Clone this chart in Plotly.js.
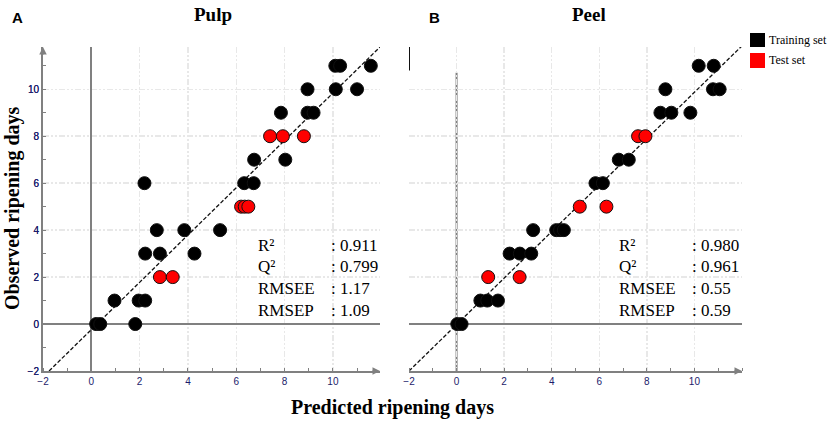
<!DOCTYPE html>
<html>
<head>
<meta charset="utf-8">
<script src="https://cdn.plot.ly/plotly-3.0.1.min.js"></script>
<style>
  html, body { margin: 0; padding: 0; background: #fff; }
  #chart { width: 829px; height: 421px; }
</style>
</head>
<body>
<div id="chart"></div>
<script>
// Pulp (A): predicted vs observed ripening days
var pulpTrainX = [10.1, 10.3, 11.57, 8.95, 10.12, 11.0, 7.85, 8.95, 9.2, 6.74, 8.03, 6.33, 6.72, 2.2,
                  2.71, 3.85, 5.33, 2.23, 2.84, 4.27, 0.96, 1.96, 2.23, 0.2, 0.37, 1.82];
var pulpTrainY = [11, 11, 11, 10, 10, 10, 9, 9, 9, 7, 7, 6, 6, 6,
                  4, 4, 4, 3, 3, 3, 1, 1, 1, 0, 0, 0];
var pulpTestX = [7.4, 7.93, 8.8, 6.2, 6.35, 6.5, 2.84, 3.37];
var pulpTestY = [8, 8, 8, 5, 5, 5, 2, 2];
var pulpFitX = [-1.75, 12];
var pulpFitY = [-2, 11.85];

// Peel (B)
var peelTrainX = [10.18, 10.81, 8.78, 10.78, 11.06, 8.57, 9.03, 9.83, 6.82, 7.24, 5.84, 6.15,
                  3.22, 4.19, 4.35, 4.51, 2.23, 2.66, 3.14, 1.0, 1.29, 1.74, 0.03, 0.21];
var peelTrainY = [11, 11, 10, 10, 10, 9, 9, 9, 7, 7, 6, 6,
                  4, 4, 4, 4, 3, 3, 3, 1, 1, 1, 0, 0];
var peelTestX = [7.63, 7.94, 5.18, 6.3, 1.33, 2.65];
var peelTestY = [8, 8, 5, 5, 2, 2];
var peelFitX = [-2, 12];
var peelFitY = [-2, 11.85];

var statNames = ['R²', 'Q²', 'RMSEE', 'RMSEP'];
var pulpStats = ['0.911', '0.799', '1.17', '1.09'];
var peelStats = ['0.980', '0.961', '0.55', '0.59'];

var tickVals = [-2, 0, 2, 4, 6, 8, 10];

var W = 829, H = 421;
function fx(p) { return p / W; }
function fy(p) { return 1 - p / H; }

var serif = 'Liberation Serif, Times New Roman, serif';
var sans = 'Liberation Sans, Arial, sans-serif';

function dots(x, y, col, ax) {
  return {
    x: x, y: y, type: 'scatter', mode: 'markers', showlegend: false,
    xaxis: ax[0], yaxis: ax[1], hoverinfo: 'x+y',
    marker: { size: 13, color: col, line: { color: '#111', width: 1 } }
  };
}
function fit(x, y, ax) {
  return {
    x: x, y: y, type: 'scatter', mode: 'lines', showlegend: false,
    xaxis: ax[0], yaxis: ax[1], hoverinfo: 'skip',
    line: { color: '#111', width: 1.3, dash: '4px,2px' }
  };
}

var data = [
  fit(pulpFitX, pulpFitY, ['x', 'y']),
  dots(pulpTrainX, pulpTrainY, '#000', ['x', 'y']),
  dots(pulpTestX, pulpTestY, '#ff0000', ['x', 'y']),
  fit(peelFitX, peelFitY, ['x2', 'y2']),
  dots(peelTrainX, peelTrainY, '#000', ['x2', 'y2']),
  dots(peelTestX, peelTestY, '#ff0000', ['x2', 'y2'])
];

function axis(dom, rng, zl) {
  return {
    domain: dom, range: rng, tickvals: tickVals, ticks: '',
    showline: true, linecolor: '#808080', linewidth: 2,
    showgrid: true, gridcolor: '#e8e8e8', gridwidth: 1.5, griddash: '6px,2px,2px,2px,2px,2px',
    zeroline: zl, zerolinecolor: '#808080', zerolinewidth: 2,
    tickfont: { family: sans, size: 10, color: '#1c1c6b' },
    minor: { dtick: 1, tick0: 1, ticks: 'inside', ticklen: 3, tickcolor: '#808080', showgrid: false },
    fixedrange: true
  };
}

var layout = {
  width: W, height: H,
  margin: { l: 0, r: 0, t: 0, b: 0 },
  paper_bgcolor: '#fff', plot_bgcolor: '#fff',
  showlegend: false,
  xaxis: axis([fx(43), fx(380)], [-2, 11.95], true),
  yaxis: axis([fy(371), fy(47)], [-2, 11.8], true),
  xaxis2: axis([fx(409), fx(742)], [-2, 12], false),
  yaxis2: axis([fy(371), fy(47)], [-2, 11.8], true),
  shapes: [
    // right panel: vertical zero line stops short of the top
    { type: 'line', xref: 'x2', yref: 'y2', x0: 0, x1: 0, y0: -2, y1: 10.7,
      line: { color: '#808080', width: 2 }, layer: 'below' },
    // dark stub at the top of the right y axis
    { type: 'line', xref: 'x2', yref: 'y2', x0: -2, x1: -2, y0: 10.8, y1: 11.8,
      line: { color: '#111', width: 2 } },
    // legend swatches
    { type: 'rect', xref: 'paper', yref: 'paper', x0: fx(750), x1: fx(765), y0: fy(47), y1: fy(33),
      fillcolor: '#000', line: { width: 0 } },
    { type: 'rect', xref: 'paper', yref: 'paper', x0: fx(750), x1: fx(765), y0: fy(68), y1: fy(53),
      fillcolor: '#ff0000', line: { width: 0 } }
  ],
  annotations: []
};

var ann = layout.annotations;
function txt(t, x, y, font, opts) {
  var a = { text: t, xref: 'paper', yref: 'paper', x: fx(x), y: fy(y), showarrow: false, font: font,
            xanchor: 'center', yanchor: 'middle' };
  for (var k in opts) a[k] = opts[k];
  ann.push(a);
}

txt('<b>A</b>', 17, 17, { family: sans, size: 15, color: '#000' }, {});
txt('<b>B</b>', 434, 17, { family: sans, size: 15, color: '#000' }, {});
txt('<b>Pulp</b>', 213, 14, { family: serif, size: 19, color: '#000' }, {});
txt('<b>Peel</b>', 589, 14, { family: serif, size: 19, color: '#000' }, {});
txt('<b>Observed ripening days</b>', 12, 208, { family: serif, size: 20, color: '#000' }, { textangle: -90 });
txt('<b>Predicted ripening days</b>', 392, 407, { family: serif, size: 20, color: '#000' }, {});
txt('Training set', 767, 40, { family: serif, size: 12, color: '#000' }, { xanchor: 'left' });
txt('Test set', 767, 60, { family: serif, size: 12, color: '#000' }, { xanchor: 'left' });

var rowsY = [245, 266, 288, 310];
for (var i = 0; i < statNames.length; i++) {
  var f = { family: serif, size: 17, color: '#000' };
  txt(statNames[i], 256, rowsY[i], f, { xanchor: 'left' });
  txt(': ' + pulpStats[i], 329, rowsY[i], f, { xanchor: 'left' });
  txt(statNames[i], 617, rowsY[i], f, { xanchor: 'left' });
  txt(': ' + peelStats[i], 690, rowsY[i], f, { xanchor: 'left' });
}

// axis arrow heads
ann.push({ xref: 'x', yref: 'y', x: 11.95, y: -2, ax: -9, ay: 0, text: '', showarrow: true,
  arrowhead: 2, arrowsize: 1, arrowwidth: 1.5, arrowcolor: '#808080' });
ann.push({ xref: 'x', yref: 'y', x: -2, y: 11.8, ax: 0, ay: 9, text: '', showarrow: true,
  arrowhead: 2, arrowsize: 1, arrowwidth: 1.5, arrowcolor: '#808080' });
ann.push({ xref: 'x2', yref: 'y2', x: 12, y: -2, ax: -9, ay: 0, text: '', showarrow: true,
  arrowhead: 2, arrowsize: 1, arrowwidth: 1.5, arrowcolor: '#808080' });

Plotly.newPlot('chart', data, layout, { displayModeBar: false, staticPlot: true });
</script>
</body>
</html>
